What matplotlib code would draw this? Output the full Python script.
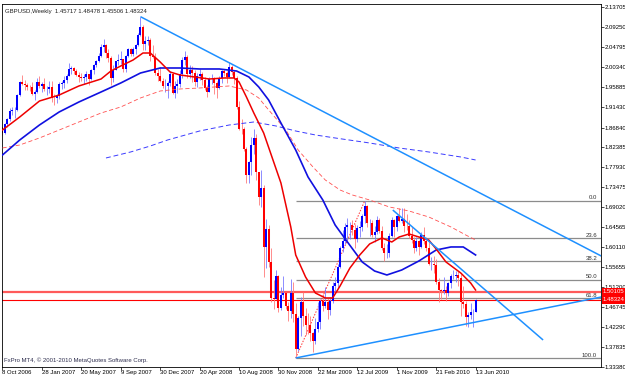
import matplotlib
matplotlib.use("Agg")
import matplotlib.pyplot as plt
import numpy as np
from matplotlib.transforms import blended_transform_factory

# GBPUSD weekly bars, week of 8 Oct 2006 .. week of 13 Jun 2010 (193 bars)
first_open = 1.8690
closes = [
    # 2006
    1.8560, 1.8770, 1.8885, 1.9060, 1.9070, 1.9080, 1.9410, 1.9700, 1.9660, 1.9640, 1.9600, 1.9580, 1.9430,
    # 2007
    1.9480, 1.9700, 1.9620, 1.9650, 1.9540, 1.9550, 1.9580, 1.9350, 1.9340, 1.9380, 1.9660, 1.9680, 1.9750,
    1.9840, 1.9990, 2.0010, 1.9950, 1.9860, 1.9820, 1.9780, 1.9820, 1.9880, 1.9760, 1.9960, 2.0080, 2.0180,
    2.0290, 2.0490, 2.0520, 2.0340, 2.0240, 1.9780, 1.9960, 2.0160, 2.0190, 2.0210, 2.0000, 2.0280, 2.0440,
    2.0320, 2.0430, 2.0530, 2.0760, 2.0930, 2.0540, 2.0610, 2.0640, 2.0290, 2.0250, 1.9910, 1.9840, 1.9720,
    # 2008
    1.9610, 1.9610, 1.9670, 1.9870, 1.9460, 1.9610, 1.9650, 1.9870, 2.0190, 2.0260, 1.9880, 1.9970, 1.9910,
    1.9700, 1.9830, 1.9870, 1.9750, 1.9560, 1.9480, 1.9760, 1.9770, 1.9680, 1.9570, 1.9790, 1.9950, 1.9900,
    1.9810, 2.0030, 1.9920, 1.9800, 1.9150, 1.8660, 1.8640, 1.8200, 1.7630, 1.7910, 1.8300, 1.8460, 1.7690,
    1.7120, 1.7330, 1.6010, 1.6420, 1.5680, 1.4870, 1.4860, 1.5360, 1.4650, 1.4930, 1.4980, 1.4690, 1.4580,
    # 2009
    1.4980, 1.4510, 1.3740, 1.4430, 1.4790, 1.4480, 1.4280, 1.4270, 1.4100, 1.3920, 1.4190, 1.4340, 1.4800,
    1.4700, 1.4780, 1.4600, 1.4810, 1.5150, 1.5200, 1.5570, 1.5990, 1.6140, 1.6470, 1.6500, 1.6510, 1.6390,
    1.6190, 1.6440, 1.6470, 1.6700, 1.6920, 1.6540, 1.6560, 1.6290, 1.6350, 1.6620, 1.6380, 1.6000, 1.5880,
    1.5890, 1.6260, 1.6620, 1.6450, 1.6700, 1.6600, 1.6650, 1.6490, 1.6480, 1.6260, 1.6160, 1.5990, 1.6150,
    # 2010
    1.6010, 1.6290, 1.6150, 1.6000, 1.5630, 1.5630, 1.5600, 1.5230, 1.5050, 1.5040, 1.5060, 1.4990, 1.5200,
    1.5360, 1.5360, 1.5390, 1.5320, 1.4790, 1.4750, 1.4440, 1.4500, 1.4550, 1.45717, 1.48324,
]
highs = [
    1.8700, 1.8790, 1.8900, 1.9110, 1.9140, 1.9140, 1.9440, 1.9730, 1.9850, 1.9750, 1.9680, 1.9640, 1.9700,
    1.9520, 1.9790, 1.9840, 1.9700, 1.9800, 1.9620, 1.9720, 1.9730, 1.9440, 1.9440, 1.9690, 1.9720, 1.9830,
    1.9890, 2.0130, 2.0060, 2.0040, 2.0000, 1.9930, 1.9910, 1.9880, 1.9940, 1.9890, 1.9990, 2.0100, 2.0200,
    2.0340, 2.0550, 2.0655, 2.0540, 2.0440, 2.0280, 2.0090, 2.0180, 2.0320, 2.0400, 2.0220, 2.0300, 2.0470,
    2.0460, 2.0480, 2.0560, 2.0800, 2.1161, 2.0980, 2.0740, 2.0740, 2.0690, 2.0530, 2.0360, 1.9990, 2.0030,
    1.9800, 1.9770, 1.9720, 1.9940, 1.9900, 1.9720, 1.9760, 1.9960, 2.0260, 2.0397, 2.0310, 2.0080, 2.0060,
    1.9960, 1.9900, 2.0000, 1.9920, 1.9820, 1.9640, 1.9810, 1.9870, 1.9820, 1.9730, 1.9830, 1.9970, 2.0000,
    1.9940, 2.0150, 2.0070, 1.9980, 1.9840, 1.9280, 1.8880, 1.8690, 1.8240, 1.7940, 1.8480, 1.8640, 1.8530,
    1.7700, 1.7740, 1.7400, 1.6650, 1.6500, 1.5980, 1.5270, 1.5500, 1.5380, 1.5130, 1.5360, 1.4990, 1.4790,
    1.5300, 1.5220, 1.4760, 1.4480, 1.4890, 1.5010, 1.4660, 1.4530, 1.4460, 1.4120, 1.4430, 1.4780, 1.4850,
    1.4960, 1.5130, 1.4880, 1.4900, 1.5240, 1.5350, 1.5640, 1.6040, 1.6390, 1.6560, 1.6660, 1.6580, 1.6620,
    1.6530, 1.6500, 1.6590, 1.6740, 1.7043, 1.6960, 1.6650, 1.6620, 1.6480, 1.6700, 1.6660, 1.6480, 1.6100,
    1.6080, 1.6330, 1.6690, 1.6640, 1.6720, 1.6880, 1.6880, 1.6880, 1.6740, 1.6620, 1.6460, 1.6230, 1.6240,
    1.6180, 1.6350, 1.6460, 1.6240, 1.6130, 1.5780, 1.5810, 1.5740, 1.5310, 1.5080, 1.5350, 1.5150, 1.5230,
    1.5400, 1.5500, 1.5470, 1.5480, 1.5420, 1.5150, 1.4800, 1.4550, 1.4770, 1.4630, 1.48478,
]
lows = [
    1.8525, 1.8545, 1.8700, 1.8830, 1.8960, 1.8890, 1.9060, 1.9380, 1.9640, 1.9530, 1.9530, 1.9510, 1.9420,
    1.9290, 1.9460, 1.9560, 1.9480, 1.9500, 1.9420, 1.9460, 1.9250, 1.9190, 1.9240, 1.9320, 1.9550, 1.9560,
    1.9670, 1.9830, 1.9880, 1.9880, 1.9840, 1.9710, 1.9730, 1.9650, 1.9730, 1.9640, 1.9740, 1.9880, 2.0030,
    2.0150, 2.0270, 2.0380, 2.0230, 2.0150, 1.9640, 1.9700, 1.9960, 2.0070, 2.0100, 1.9930, 1.9930, 2.0250,
    2.0290, 2.0290, 2.0330, 2.0500, 2.0740, 2.0420, 2.0420, 2.0520, 2.0160, 2.0230, 1.9860, 1.9730, 1.9710,
    1.9570, 1.9470, 1.9340, 1.9610, 1.9430, 1.9350, 1.9450, 1.9600, 1.9800, 2.0090, 1.9800, 1.9790, 1.9690,
    1.9610, 1.9600, 1.9740, 1.9640, 1.9520, 1.9360, 1.9470, 1.9650, 1.9430, 1.9340, 1.9540, 1.9680, 1.9840,
    1.9680, 1.9780, 1.9850, 1.9660, 1.9100, 1.8620, 1.8530, 1.8170, 1.7440, 1.7450, 1.7630, 1.8100, 1.7520,
    1.6950, 1.6900, 1.5350, 1.5540, 1.5560, 1.4780, 1.4620, 1.4840, 1.4570, 1.4600, 1.4870, 1.4620, 1.4360,
    1.4420, 1.4330, 1.3530, 1.3700, 1.4030, 1.4250, 1.4050, 1.4080, 1.3910, 1.3660, 1.3840, 1.4120, 1.4180,
    1.4590, 1.4660, 1.4400, 1.4500, 1.4770, 1.4990, 1.5100, 1.5550, 1.5900, 1.6070, 1.6170, 1.6190, 1.6290,
    1.6000, 1.6130, 1.6240, 1.6360, 1.6560, 1.6470, 1.6250, 1.6240, 1.6130, 1.6310, 1.6330, 1.5940, 1.5710,
    1.5770, 1.5790, 1.6240, 1.6240, 1.6370, 1.6570, 1.6560, 1.6340, 1.6400, 1.6220, 1.6100, 1.5880, 1.5930,
    1.5840, 1.5990, 1.6090, 1.5930, 1.5610, 1.5510, 1.5430, 1.5180, 1.4780, 1.4860, 1.4960, 1.4810, 1.4910,
    1.5100, 1.5300, 1.5230, 1.5150, 1.4480, 1.4650, 1.4250, 1.4230, 1.4400, 1.4230, 1.45506,
]

date_labels = ["8 Oct 2006", "28 Jan 2007", "20 May 2007", "9 Sep 2007", "30 Dec 2007",
               "20 Apr 2008", "10 Aug 2008", "30 Nov 2008", "22 Mar 2009", "12 Jul 2009",
               "1 Nov 2009", "21 Feb 2010", "13 Jun 2010"]
bars_per_label = 16

price_ticks = [2.13705, 2.09250, 2.04795, 2.00340, 1.95885, 1.91430, 1.86840, 1.82385, 1.77930,
               1.73475, 1.69020, 1.64565, 1.60110, 1.55655, 1.51200, 1.46745, 1.42290, 1.37835, 1.33380]

# moving averages: bar index / price
ma_red_idx = [0, 7, 15, 23, 31, 40, 44, 48, 53, 57, 60, 64, 68, 72, 78, 84, 90, 94, 96, 99, 102, 106,
              113, 117, 119, 123, 127, 131, 134, 137, 141, 145, 149, 154, 158, 161, 165, 169, 173, 176,
              180, 186, 190, 192]
ma_red_val = [1.8628, 1.8919, 1.9276, 1.9410, 1.9612, 1.9768, 1.9947, 2.0059, 2.0193, 2.0349, 2.0349,
              2.0148, 1.9925, 1.9858, 1.9813, 1.9768, 1.9791, 1.9791, 1.9701, 1.9366, 1.9008, 1.8561,
              1.7444, 1.6461, 1.5835, 1.5343, 1.4985, 1.4874, 1.4874, 1.5142, 1.5544, 1.5835, 1.6081,
              1.6215, 1.6125, 1.6237, 1.6304, 1.6237, 1.6170, 1.5969, 1.5678, 1.5432, 1.5209, 1.5052]

ma_blue_idx = [0, 7, 15, 23, 31, 40, 48, 56, 64, 72, 80, 88, 95, 100, 104, 108, 113, 119, 124, 130,
               135, 140, 146, 151, 156, 162, 169, 176, 182, 187, 192]
ma_blue_val = [1.8070, 1.8405, 1.8740, 1.9031, 1.9254, 1.9478, 1.9679, 1.9902, 2.0014, 2.0014, 1.9992,
               1.9992, 1.9947, 1.9813, 1.9590, 1.9299, 1.8785, 1.8181, 1.7578, 1.7064, 1.6505, 1.6125,
               1.5678, 1.5477, 1.5388, 1.5499, 1.5701, 1.5946, 1.6014, 1.6014, 1.5835]

ma_red_slow_idx = [0, 7, 15, 23, 31, 40, 48, 56, 64, 72, 80, 92, 99, 104, 107, 115, 120, 126, 131,
                   137, 142, 149, 157, 165, 173, 182, 188, 192]
ma_red_slow_val = [1.8226, 1.8293, 1.8450, 1.8628, 1.8807, 1.9008, 1.9143, 1.9344, 1.9500, 1.9545,
                   1.9567, 1.9612, 1.9522, 1.9344, 1.9143, 1.8628, 1.8181, 1.7802, 1.7511, 1.7287,
                   1.7176, 1.7064, 1.6908, 1.6818, 1.6684, 1.6461, 1.6282, 1.6170]

ma_blue_slow_idx = [42, 52, 60, 67, 80, 92, 102, 111, 119, 127, 135, 149, 161, 173, 186, 192]
ma_blue_slow_val = [1.8003, 1.8137, 1.8271, 1.8405, 1.8606, 1.8740, 1.8807, 1.8718, 1.8606, 1.8517,
                    1.8450, 1.8338, 1.8226, 1.8137, 1.8025, 1.7958]

# trend lines: start bar, start price, end bar, end price
trend_top = [56, 2.1161, 243, 1.5812]
trend_mid = [158.4, 1.6840, 219.4, 1.3935]
trend_low = [119, 1.3533, 243, 1.4896]

# fibonacci retracement from the Jan 2009 low to the Aug 2009 high
fib_low_bar, fib_low = 119, 1.3530
fib_high_bar, fib_high = 147, 1.7043
fib_levels = [0.0, 23.6, 38.2, 50.0, 61.8, 100.0]

resist_price = 1.50105

plt.rcParams['font.family'] = ['Liberation Sans', 'DejaVu Sans']

o = np.array([first_open] + closes[:-1])
c = np.array(closes)
h = np.array(highs)
l = np.array(lows)
idx = np.arange(len(c))
up = c >= o

fig = plt.figure(figsize=(6.25, 3.78), dpi=100)
ax = fig.add_axes([2 / 625, 11 / 378, 599 / 625, 363.5 / 378])
x_right = 242.9
ax.set_xlim(-0.2, x_right)
ax.set_ylim(1.33313, 2.14555)

# fibonacci levels
rng = fib_high - fib_low
for lev in fib_levels:
    p = fib_high - lev / 100 * rng
    ax.hlines(p, fib_low_bar, x_right, color='#8c8c8c', lw=0.9, zorder=1)
    ax.text(241.3, p + 0.001, f"{lev:.1f}", ha='right', va='bottom', fontsize=4.3, color='#303030', zorder=1)
ax.plot([fib_low_bar, fib_high_bar], [fib_low, fib_high], color='#ff3030', ls=(0, (1.5, 1.5)), lw=0.7, zorder=1)

# horizontal price lines
ax.axhline(resist_price, color='#ff5a5a', lw=1.6, zorder=1.5)
ax.axhline(c[-1], color='#ff0000', lw=0.8, zorder=1.5)

# candles
ax.vlines(idx[up], l[up], h[up], color='#7a7aff', lw=0.6, zorder=2)
ax.vlines(idx[~up], l[~up], h[~up], color='#ff7a7a', lw=0.6, zorder=2)
ax.vlines(idx[up], o[up], c[up], color='#0000ff', lw=1.45, zorder=2.1)
ax.vlines(idx[~up], o[~up], c[~up], color='#ff0000', lw=1.45, zorder=2.1)

# moving averages
ax.plot(ma_blue_slow_idx, ma_blue_slow_val, color='#3a3aff', lw=0.7, ls=(0, (5, 3)), zorder=3)
ax.plot(ma_red_slow_idx, ma_red_slow_val, color='#ff5050', lw=0.6, ls=(0, (5, 3)), zorder=3)
ax.plot(ma_blue_idx, ma_blue_val, color='#1010e0', lw=1.2, zorder=3)
ax.plot(ma_red_idx, ma_red_val, color='#ee0000', lw=1.1, zorder=3)

# trend lines
for t in (trend_top, trend_mid, trend_low):
    ax.plot([t[0], t[2]], [t[1], t[3]], color='#1e90ff', lw=1.1, zorder=3.5, solid_capstyle='butt')

# axes styling
for s in ax.spines.values():
    s.set_color('#000000')
    s.set_linewidth(0.6)

ax.set_xticks(idx[::bars_per_label])
ax.set_xticklabels(date_labels, ha='left')
ax.tick_params(axis='x', direction='out', length=2, width=0.5, pad=0.5, labelsize=4.3, colors='#000000')

ax.yaxis.tick_right()
ax.set_yticks(price_ticks)
ax.set_yticklabels([f"{p:.5f}" for p in price_ticks])
ax.tick_params(axis='y', direction='out', length=2, width=0.5, pad=0.8, labelsize=4.3, colors='#000000')

# price boxes on the right scale
tr = blended_transform_factory(ax.transAxes, ax.transData)
for p in (resist_price, c[-1]):
    ax.text(1.003, p, f"{p:.5f}", transform=tr, ha='left', va='center', fontsize=4.3, color='white',
            bbox=dict(boxstyle='square,pad=0.2', fc='#ff0000', ec='none'), zorder=5, clip_on=False)

ax.text(0.005, 0.985, "GBPUSD,Weekly  1.45717 1.48478 1.45506 1.48324", transform=ax.transAxes,
        ha='left', va='top', fontsize=4.3, color='#202020')
ax.text(0.003, 0.012, "FxPro MT4, \u00a9 2001-2010 MetaQuotes Software Corp.", transform=ax.transAxes,
        ha='left', va='bottom', fontsize=4.3, color='#303050')

fig.savefig('out.png', dpi=100)
